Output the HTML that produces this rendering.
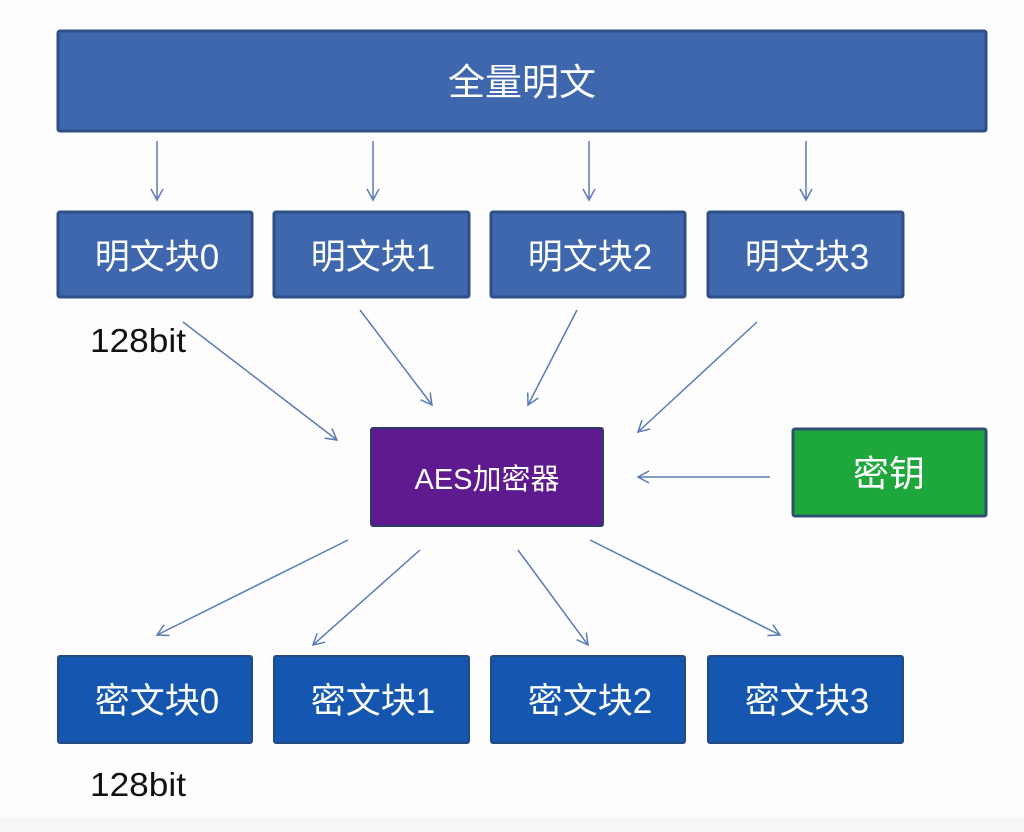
<!DOCTYPE html>
<html><head><meta charset="utf-8"><style>
html,body{margin:0;padding:0;background:#fdfdfd;}
svg{display:block;}
text{font-family:"Liberation Sans","Noto Sans CJK SC",sans-serif;}
</style></head><body>
<svg width="1024" height="832" viewBox="0 0 1024 832" xmlns="http://www.w3.org/2000/svg">
<defs>
<marker id="a" markerWidth="14" markerHeight="14" refX="12" refY="7" orient="auto" markerUnits="userSpaceOnUse">
<path d="M1,1 L12,7 L1,13" fill="none" stroke="#5a7bb5" stroke-width="1.5"/>
</marker>
</defs>
<rect x="0" y="0" width="1024" height="832" fill="#fdfdfd"/>
<rect x="0" y="818" width="1024" height="14" fill="#f6f6f6"/>
<rect x="58" y="31" width="928" height="100" rx="2" fill="#3e67ad" stroke="#2d4f86" stroke-width="3"/>
<text x="522" y="95" font-size="37" fill="#fff" text-anchor="middle">全量明文</text>
<g stroke="#5a7bb5" stroke-width="1.5" marker-end="url(#a)">
<line x1="157" y1="141" x2="157" y2="200"/>
<line x1="373" y1="141" x2="373" y2="200"/>
<line x1="589" y1="141" x2="589" y2="200"/>
<line x1="806" y1="141" x2="806" y2="200"/>
<line x1="183" y1="322" x2="337" y2="440"/>
<line x1="360" y1="310" x2="432" y2="405"/>
<line x1="577" y1="310" x2="528" y2="405"/>
<line x1="757" y1="322" x2="638" y2="432"/>
<line x1="770" y1="477" x2="638" y2="477"/>
<line x1="348" y1="540" x2="157" y2="635"/>
<line x1="420" y1="550" x2="313" y2="645"/>
<line x1="518" y1="550" x2="588" y2="645"/>
<line x1="590" y1="540" x2="780" y2="635"/>
</g>
<g fill="#3e67ad" stroke="#2d4f86" stroke-width="3">
<rect x="58" y="212" width="194" height="85" rx="2"/>
<rect x="274" y="212" width="195" height="85" rx="2"/>
<rect x="491" y="212" width="194" height="85" rx="2"/>
<rect x="708" y="212" width="195" height="85" rx="2"/>
</g>
<g font-size="35" fill="#fff" text-anchor="middle">
<text x="157" y="269">明文块0</text>
<text x="373" y="269">明文块1</text>
<text x="590" y="269">明文块2</text>
<text x="807" y="269">明文块3</text>
</g>
<text x="90" y="352" font-size="33" fill="#111" textLength="96" lengthAdjust="spacingAndGlyphs">128bit</text>
<rect x="371" y="428" width="232" height="98" rx="2" fill="#5e1a8e" stroke="#2e3c6a" stroke-width="2"/>
<text x="487" y="489" font-size="29" fill="#fff" text-anchor="middle">AES加密器</text>
<rect x="793" y="429" width="193" height="87" rx="2" fill="#1ea83c" stroke="#2d4f70" stroke-width="3"/>
<text x="889" y="486" font-size="36" fill="#fff" text-anchor="middle">密钥</text>
<g fill="#1557b0" stroke="#244a80" stroke-width="2">
<rect x="58" y="656" width="194" height="87" rx="2"/>
<rect x="274" y="656" width="195" height="87" rx="2"/>
<rect x="491" y="656" width="194" height="87" rx="2"/>
<rect x="708" y="656" width="195" height="87" rx="2"/>
</g>
<g font-size="35" fill="#fff" text-anchor="middle">
<text x="157" y="713">密文块0</text>
<text x="373" y="713">密文块1</text>
<text x="590" y="713">密文块2</text>
<text x="807" y="713">密文块3</text>
</g>
<text x="90" y="796" font-size="33" fill="#111" textLength="96" lengthAdjust="spacingAndGlyphs">128bit</text>
</svg>
</body></html>
